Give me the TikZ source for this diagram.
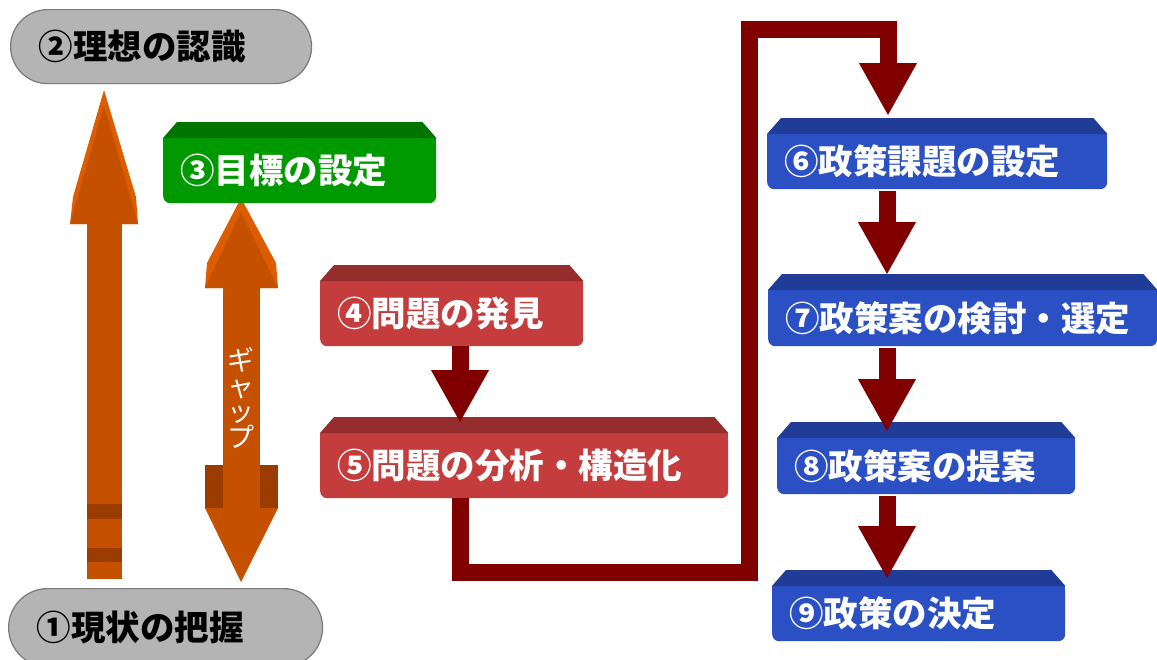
\documentclass[tikz,border=0pt]{standalone}
\usepackage{fontspec}
\newfontfamily\jp{Noto Sans CJK JP}
\usetikzlibrary{arrows.meta,calc}
\definecolor{org}{HTML}{C45000}
\definecolor{orgl}{HTML}{DC5C00}
\definecolor{orgd}{HTML}{9A3C00}
\definecolor{grnf}{HTML}{009900}
\definecolor{grnt}{HTML}{007400}
\definecolor{redf}{HTML}{C43C3C}
\definecolor{redt}{HTML}{962D2D}
\definecolor{bluf}{HTML}{2A50C4}
\definecolor{blut}{HTML}{203C96}
\definecolor{conc}{HTML}{800000}
\definecolor{pillf}{HTML}{B4B4B4}
\definecolor{pilld}{HTML}{7A7A7A}
\newcommand\boxtop[3]{%
  \fill[#3] (#1.north west) rectangle ++(8,8);
  \fill[#3] (#1.north east) rectangle ++(-8,8);
  \fill[#2] (#1.north west) -- ++(14,-16) -- ($(#1.north east)+(-14,-16)$) -- (#1.north east) -- cycle;}
\begin{document}
\begin{tikzpicture}[
  x=1pt,y=-1pt,
  lbl/.style={font=\jp\bfseries\fontsize{34.5}{40}\selectfont},
  pill/.style={lbl, rectangle, fill=pillf, draw=pilld, line width=1.2pt, anchor=north west, inner xsep=28pt, inner ysep=0pt, align=left, text=black},
  stepbox/.style={lbl, rectangle, rounded corners=7pt, anchor=north west, inner xsep=17pt, inner ysep=0pt, align=left, text=white},
  conn/.style={draw=conc, line width=17pt, line join=miter, -{Triangle[width=54pt,length=53pt]}},
  gaptext/.style={font=\jp\fontsize{27}{25.5}\selectfont, text=white, align=center, inner sep=0pt}
]
\useasboundingbox (0,0) rectangle (1157,659);

% pills
\node[pill, rounded corners=37pt, text width=245pt, minimum height=74pt] (n2) at (10,9) {②理想の認識};
\node[pill, rounded corners=39pt, text width=258pt, minimum height=78pt] (n1) at (8,588) {①現状の把握};

% left orange arrow (current -> ideal)
\fill[orgl] (104,90) -- (136,197) -- (138,224) -- (70,224) -- (73,197) -- cycle;
\fill[org] (104,106) -- (138,224) -- (70,224) -- cycle;
\fill[org] (87,223) rectangle (122,579);
\fill[orgd] (87,504) rectangle (122,519);
\fill[orgd] (87,548) rectangle (122,562);

% gap double arrow
\fill[orgl] (241,198) -- (276,263) -- (278,288) -- (205,288) -- (207,263) -- cycle;
\fill[org] (241,212) -- (278,288) -- (205,288) -- cycle;
\fill[org] (223,287) rectangle (260,509);
\fill[orgd] (205,465) rectangle (223,509);
\fill[orgd] (260,465) rectangle (278,509);
\fill[org] (205,508) -- (278,508) -- (241,582) -- cycle;
\node[gaptext] (gap) at (241,398) {ギ\\ャ\\ッ\\プ};

% step boxes
\node[stepbox, fill=grnf, text width=239pt, minimum height=65pt] (n3) at (163,138) {③目標の設定};
\boxtop{n3}{grnt}{grnf}
\node[stepbox, fill=redf, text width=229pt, minimum height=65pt] (n4) at (320,281) {④問題の発見};
\boxtop{n4}{redt}{redf}
\node[stepbox, fill=redf, text width=374pt, minimum height=65pt] (n5) at (320,433) {⑤問題の分析・構造化};
\boxtop{n5}{redt}{redf}
\node[stepbox, fill=bluf, text width=306pt, minimum height=55pt] (n6) at (767,134) {⑥政策課題の設定};
\boxtop{n6}{blut}{bluf}
\node[stepbox, fill=bluf, text width=355pt, minimum height=56pt] (n7) at (768,290) {⑦政策案の検討・選定};
\boxtop{n7}{blut}{bluf}
\node[stepbox, fill=bluf, text width=264pt, minimum height=56pt] (n8) at (777,438) {⑧政策案の提案};
\boxtop{n8}{blut}{bluf}
\node[stepbox, fill=bluf, text width=259pt, minimum height=55pt] (n9) at (772,586) {⑨政策の決定};
\boxtop{n9}{blut}{bluf}

% connectors
\coordinate (ax) at (887,0);
\coordinate (bx) at (460,0);
\draw[conn] (bx |- n4.south) -- ($(bx |- n5.north)+(0,-10)$);
\draw[conn] (bx |- n5.south) -- (460,572.5) -- (749.5,572.5) -- (749.5,29) -- (888,29) -- ($(888,0 |- n6.north)+(0,-18)$);
\draw[conn] ($(ax |- n6.south)+(0,2)$) -- ($(ax |- n7.north)+(0,-15)$);
\draw[conn] ($(ax |- n7.south)+(0,2)$) -- ($(ax |- n8.north)+(0,-6)$);
\draw[conn] ($(ax |- n8.south)+(0,2)$) -- ($(ax |- n9.north)+(0,-7)$);
\end{tikzpicture}
\end{document}
